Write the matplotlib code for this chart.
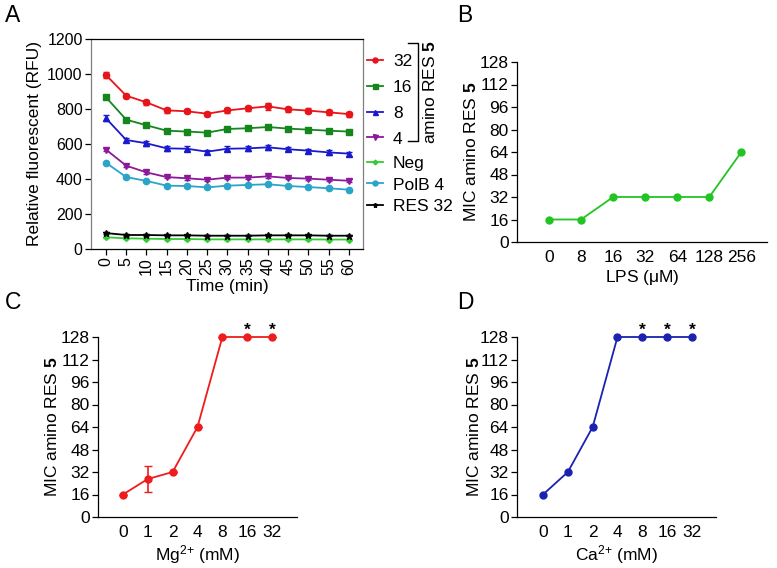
import matplotlib.pyplot as plt
import numpy as np
from matplotlib.lines import Line2D

plt.rcParams['font.family'] = ['Liberation Sans', 'DejaVu Sans']
plt.rcParams['mathtext.fontset'] = 'custom'
plt.rcParams['mathtext.rm'] = 'Liberation Sans'
plt.rcParams['mathtext.it'] = 'Liberation Sans'
plt.rcParams['mathtext.bf'] = 'Liberation Sans:bold'
plt.rcParams['font.size'] = 12.5
plt.rcParams['axes.linewidth'] = 0.9

# ---- panel A data ----
time = [0, 5, 10, 15, 20, 25, 30, 35, 40, 45, 50, 55, 60]
amino32 = [994, 876, 838, 792, 787, 773, 792, 804, 815, 798, 791, 781, 771]
amino16 = [867, 739, 707, 676, 671, 665, 686, 690, 697, 688, 682, 676, 671]
amino8 = [747, 623, 604, 575, 573, 556, 573, 575, 581, 570, 562, 552, 545]
amino4 = [568, 476, 438, 411, 404, 396, 408, 408, 415, 406, 402, 396, 390]
neg = [67, 61, 59, 57, 57, 55, 55, 55, 55, 55, 55, 54, 54]
polb4 = [493, 411, 389, 362, 360, 352, 362, 366, 370, 360, 354, 347, 339]
res32 = [91, 80, 80, 78, 78, 76, 76, 76, 78, 78, 78, 76, 76]
err32 = [18, 12, 16, 14, 12, 12, 14, 16, 18, 14, 14, 14, 14]
err16 = [10, 10, 10, 10, 10, 10, 10, 10, 10, 10, 10, 10, 10]
err8 = [16, 12, 14, 14, 14, 12, 14, 14, 14, 12, 12, 12, 12]
err4 = [8, 8, 8, 8, 8, 8, 8, 8, 8, 8, 8, 8, 8]
errsmall = [4] * 13

series_a = [
    ('32', amino32, err32, '#e8141a', 'o', 4.5),
    ('16', amino16, err16, '#15861c', 's', 4.5),
    ('8', amino8, err8, '#1a1acc', '^', 4.5),
    ('4', amino4, err4, '#8a1a9a', 'v', 4.5),
    ('Neg', neg, errsmall, '#33cc33', 'D', 3),
    ('PolB 4', polb4, errsmall, '#2aa4c8', 'o', 4.5),
    ('RES 32', res32, errsmall, '#000000', '*', 4.5),
]

# ---- panel B/C/D data ----
lps_labels = ['0', '8', '16', '32', '64', '128', '256']
mic_lps = [16, 16, 32, 32, 32, 32, 64]

mg_labels = ['0', '1', '2', '4', '8', '16', '32']
mic_mg = [16, 27, 32, 64, 128, 128, 128]
mic_mg_err = [0, 9, 0, 0, 0, 0, 0]
mg_star = [5, 6]

ca_labels = ['0', '1', '2', '4', '8', '16', '32']
mic_ca = [16, 32, 64, 128, 128, 128, 128]
ca_star = [4, 5, 6]

mic_ticks = [0, 16, 32, 48, 64, 80, 96, 112, 128]

W, H = 777, 568


def px(l, t, r, b):
    return [l / W, 1 - b / H, (r - l) / W, (b - t) / H]


fig = plt.figure(figsize=(W / 100, H / 100), dpi=100)


def style(ax, size=12.5):
    ax.tick_params(direction='out', length=4, width=0.9, pad=2, labelsize=size)


def mic_axes(ax, x, labels, xlabel, xlim, ylab_x, xlab_y):
    ax.set_xlim(*xlim)
    ax.set_ylim(0, 128)
    ax.set_xticks(x)
    ax.set_xticklabels(labels)
    ax.set_yticks(mic_ticks)
    ax.set_xlabel(xlabel)
    ax.set_ylabel(r'MIC amino RES $\mathbf{5}$')
    ax.yaxis.set_label_coords(ylab_x, 0.5)
    ax.xaxis.set_label_coords(0.5, xlab_y)
    for s in ['top', 'right']:
        ax.spines[s].set_visible(False)
    style(ax)
    ax.tick_params(axis='x', length=0, pad=6)


def stars(ax, x, y, idx):
    for i in idx:
        ax.annotate('*', (x[i], y[i]), xytext=(0, -0.5), textcoords='offset points',
                    ha='center', va='bottom', fontsize=12.5, fontweight='bold')


# ---- A ----
axA = fig.add_axes(px(91, 39, 363, 249))
handles = []
for lab, y, e, c, m, ms in series_a:
    axA.errorbar(time, y, yerr=e, fmt='none', ecolor=c, elinewidth=1, capsize=2)
    h, = axA.plot(time, y, color=c, marker=m, ms=ms, lw=1.3, label=lab)
    handles.append(h)
axA.set_xlim(-3.7, 63.5)
axA.set_ylim(0, 1200)
axA.set_xticks(time)
axA.set_xticklabels([str(t) for t in time], rotation=90)
axA.set_yticks(range(0, 1201, 200))
axA.set_xlabel('Time (min)')
axA.set_ylabel('Relative fluorescent (RFU)')
axA.yaxis.set_label_coords(-0.18, 0.5)
axA.xaxis.set_label_coords(0.5, -0.145)
axA.spines['left'].set_color('#808080')
axA.spines['right'].set_color('#808080')
style(axA, 11.5)

leg_kw = dict(loc='upper left', frameon=False, handlelength=0.92, handletextpad=0.58,
              borderaxespad=0.2, fontsize=12.5, markerscale=0.8)
leg1 = axA.legend(handles=handles[:4], bbox_to_anchor=(0.976, 0.98), labelspacing=0.62, **leg_kw)
axA.add_artist(leg1)
axA.legend(handles=handles[4:], bbox_to_anchor=(0.976, 0.495), labelspacing=0.39, **leg_kw)

# bracket for amino RES 5
bx, bt, bb = 418, 43, 141
fig.add_artist(Line2D([408 / W, bx / W, bx / W, 408 / W],
                      [1 - bt / H, 1 - bt / H, 1 - bb / H, 1 - bb / H],
                      color='black', lw=1))
fig.text(430 / W, 1 - 92 / H, r'amino RES $\mathbf{5}$', rotation=90,
         ha='center', va='center', fontsize=12.5)

# ---- B ----
axB = fig.add_axes(px(517, 62, 767, 242))
xb = np.arange(len(mic_lps))
axB.plot(xb, mic_lps, color='#22c422', marker='o', ms=5, lw=1.3)
mic_axes(axB, xb, lps_labels, r'LPS ($\mu$M)', (-1, 6.8), -0.152, -0.144)

# ---- C ----
axC = fig.add_axes(px(98, 337, 297, 517))
xc = np.arange(len(mic_mg))
axC.errorbar(xc, mic_mg, yerr=mic_mg_err, fmt='none', ecolor='#ee1c1c', elinewidth=1.2, capsize=3)
axC.plot(xc, mic_mg, color='#ee1c1c', marker='o', ms=5, lw=1.3, clip_on=False)
stars(axC, xc, mic_mg, mg_star)
mic_axes(axC, xc, mg_labels, r'Mg$^{2{+}}$ (mM)', (-1, 7), -0.191, -0.144)

# ---- D ----
axD = fig.add_axes(px(517, 337, 716, 517))
xd = np.arange(len(mic_ca))
axD.plot(xd, mic_ca, color='#1a22b0', marker='o', ms=5, lw=1.3, clip_on=False)
stars(axD, xd, mic_ca, ca_star)
mic_axes(axD, xd, ca_labels, r'Ca$^{2{+}}$ (mM)', (-1.05, 6.97), -0.176, -0.144)

# panel letters
for lab, x, y in [('A', 5, 4), ('B', 457, 4), ('C', 5, 291), ('D', 457, 291)]:
    fig.text(x / W, 1 - y / H, lab, fontsize=16.5, ha='left', va='top')

fig.savefig('out.png', dpi=100)
